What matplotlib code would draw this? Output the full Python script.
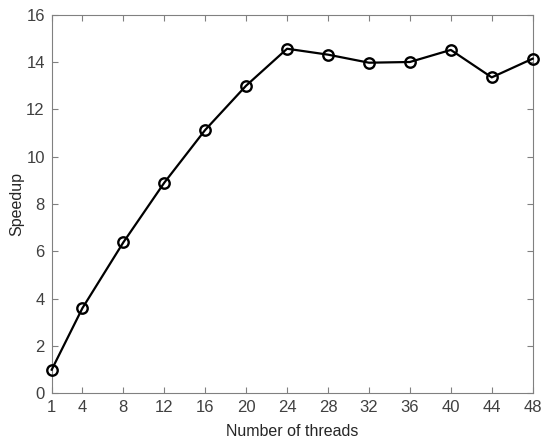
import numpy as np
import matplotlib.pyplot as plt

plt.rcParams['font.family'] = ['Liberation Sans', 'DejaVu Sans']

# данные: число потоков и ускорение
threads = [1, 4, 8, 12, 16, 20, 24, 28, 32, 36, 40, 44, 48]
speedup = [1.0, 3.6, 6.38, 8.9, 11.13, 13.0, 14.56, 14.31, 13.97, 14.0, 14.51, 13.35, 14.14]
xticks = [1, 4, 8, 12, 16, 20, 24, 28, 32, 36, 40, 44, 48]
yticks = [0, 2, 4, 6, 8, 10, 12, 14, 16]

fig = plt.figure(figsize=(5.5, 4.44), dpi=100)
ax = fig.add_axes([0.094, 0.114, 0.8745, 0.853])

ax.plot(threads, speedup, color='black', linewidth=1.6, marker='o',
        markersize=7.5, markerfacecolor='none', markeredgewidth=1.7,
        clip_on=False, zorder=3)

ax.set_xlim(1, 48)
ax.set_ylim(0, 16)
ax.set_xticks(xticks)
ax.set_yticks(yticks)
ax.set_xlabel('Number of threads', fontsize=11.5, color='#262626', labelpad=6)
ax.set_ylabel('Speedup', fontsize=11.5, color='#262626', labelpad=1)

# рамка в стиле MATLAB
for s in ax.spines.values():
    s.set_color('#808080')
    s.set_linewidth(0.8)
ax.tick_params(direction='in', top=True, right=True, length=4, width=0.8,
               color='#808080', labelcolor='#404040', labelsize=12, pad=5)

fig.savefig('out.png', dpi=100)
